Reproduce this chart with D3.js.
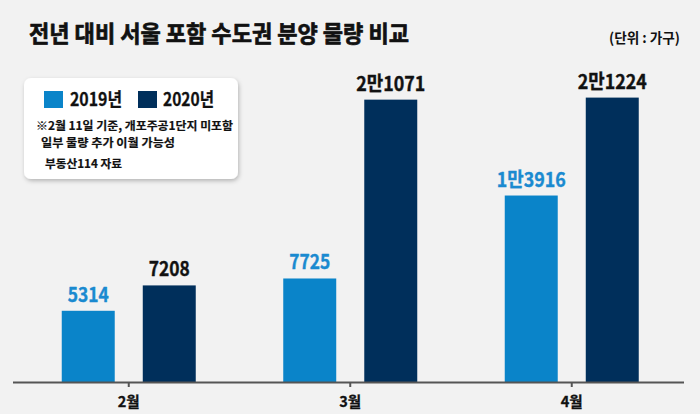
<!DOCTYPE html>
<html><head><meta charset="utf-8">
<script src="https://cdn.jsdelivr.net/npm/d3@7"></script>
<style>html,body{margin:0;padding:0;background:#f2f2f2;}svg{display:block;}</style>
</head><body>
<script>
const months = ["2월", "3월", "4월"];
const series = ["2019년", "2020년"];
const values2019 = [5314, 7725, 13916];
const values2020 = [7208, 21071, 21224];
const labels2019 = ["5314", "7725", "1만3916"];
const labels2020 = ["7208", "2만1071", "2만1224"];
const title = "전년 대비 서울 포함 수도권 분양 물량 비교";
const unit = "(단위 : 가구)";
const notes = ["※2월 11일 기준, 개포주공1단지 미포함", "일부 물량 추가 이월 가능성", "부동산114 자료"];

const W = 700, H = 414;
const FONT = "'Noto Sans CJK KR', 'Noto Sans', sans-serif";
const colors = {"2019년": "#0a84c9", "2020년": "#002f5b"};
const labelColors = {"2019년": "#1a8ad0", "2020년": "#111111"};

const svg = d3.select("body").append("svg").attr("width", W).attr("height", H);
svg.append("rect").attr("width", W).attr("height", H).attr("fill", "#f2f2f2");

const defs = svg.append("defs");
const f = defs.append("filter").attr("id", "sh").attr("x", "-10%").attr("y", "-10%").attr("width", "130%").attr("height", "140%");
f.append("feDropShadow").attr("dx", 1).attr("dy", 2).attr("stdDeviation", 2).attr("flood-color", "#000").attr("flood-opacity", 0.25);

function txt(g, s, x, y, size, len, opts = {}) {
  const fill = opts.fill || "#111";
  const t = g.append("text").attr("x", x).attr("y", y).text(s)
    .attr("font-family", FONT).attr("font-weight", 700).attr("font-size", size)
    .attr("fill", fill).attr("text-anchor", opts.anchor || "start");
  if (opts.stroke) t.attr("stroke", fill).attr("stroke-width", opts.stroke).attr("stroke-linejoin", "round");
  if (len) t.attr("textLength", len).attr("lengthAdjust", "spacingAndGlyphs");
  return t;
}

// Title and unit
txt(svg, title, 29, 42, 23, 380, {stroke: 0.7});
txt(svg, unit, 609, 43, 14, 71);

// Scales
const baseY = 382;
const x0 = d3.scaleBand().domain(months).range([18, 682.5]).paddingInner(0).paddingOuter(0);
const x1 = d3.scaleBand().domain(series).range([-67, 67]).paddingInner(0.346);
const y = d3.scaleLinear().domain([0, 25000]).range([baseY, 47]);

const data = months.map((m, i) => ({
  month: m,
  vals: [
    {s: series[0], v: values2019[i], label: labels2019[i]},
    {s: series[1], v: values2020[i], label: labels2020[i]}
  ]
}));

const groups = svg.append("g").selectAll("g").data(data).join("g")
  .attr("transform", d => `translate(${x0(d.month) + x0.bandwidth() / 2},0)`);

groups.selectAll("rect").data(d => d.vals).join("rect")
  .attr("x", d => x1(d.s)).attr("width", x1.bandwidth())
  .attr("y", d => y(d.v)).attr("height", d => baseY - y(d.v))
  .attr("fill", d => colors[d.s]);

groups.each(function(d) {
  const g = d3.select(this);
  d.vals.forEach(v => {
    const len = v.label.length > 4 ? 69 : 41;
    txt(g, v.label, x1(v.s) + x1.bandwidth() / 2, y(v.v) - 9, 20, len, {anchor: "middle", fill: labelColors[v.s], stroke: 0.4});
  });
});

// Axis
const axisG = svg.append("g").attr("transform", `translate(0,${baseY})`);
axisG.append("line").attr("x1", 13).attr("x2", 684).attr("y1", 0.5).attr("y2", 0.5)
  .attr("stroke", "#555").attr("stroke-width", 2);
const xAxis = d3.axisBottom(x0).tickSize(5).tickSizeOuter(0).tickPadding(6);
const ax = svg.append("g").attr("transform", `translate(0,${baseY})`).call(xAxis);
ax.select(".domain").remove();
ax.selectAll(".tick line").attr("stroke", "#555").attr("stroke-width", 2);
ax.selectAll(".tick text").attr("font-family", FONT).attr("font-weight", 700)
  .attr("font-size", 15).attr("fill", "#111").attr("dy", "0.95em")
  .attr("stroke", "#111").attr("stroke-width", 0.3)
  .attr("textLength", 22).attr("lengthAdjust", "spacingAndGlyphs");

// Legend box
const lg = svg.append("g");
lg.append("rect").attr("x", 24).attr("y", 78).attr("width", 214).attr("height", 101).attr("rx", 7)
  .attr("fill", "#fff").attr("filter", "url(#sh)");
const legPos = [{sx: 44, tx: 70, tl: 52}, {sx: 138, tx: 163, tl: 51}];
series.forEach((s, i) => {
  lg.append("rect").attr("x", legPos[i].sx).attr("y", 91).attr("width", 19).attr("height", 17).attr("fill", colors[s]);
  txt(lg, s, legPos[i].tx, 106, 18, legPos[i].tl, {stroke: 0.3});
});
txt(lg, notes[0], 36, 130, 11.7, 197, {stroke: 0.2});
txt(lg, notes[1], 41, 147, 11.7, 134, {stroke: 0.2});
txt(lg, notes[2], 45, 168, 11.7, 77, {stroke: 0.2});
</script>
</body></html>
